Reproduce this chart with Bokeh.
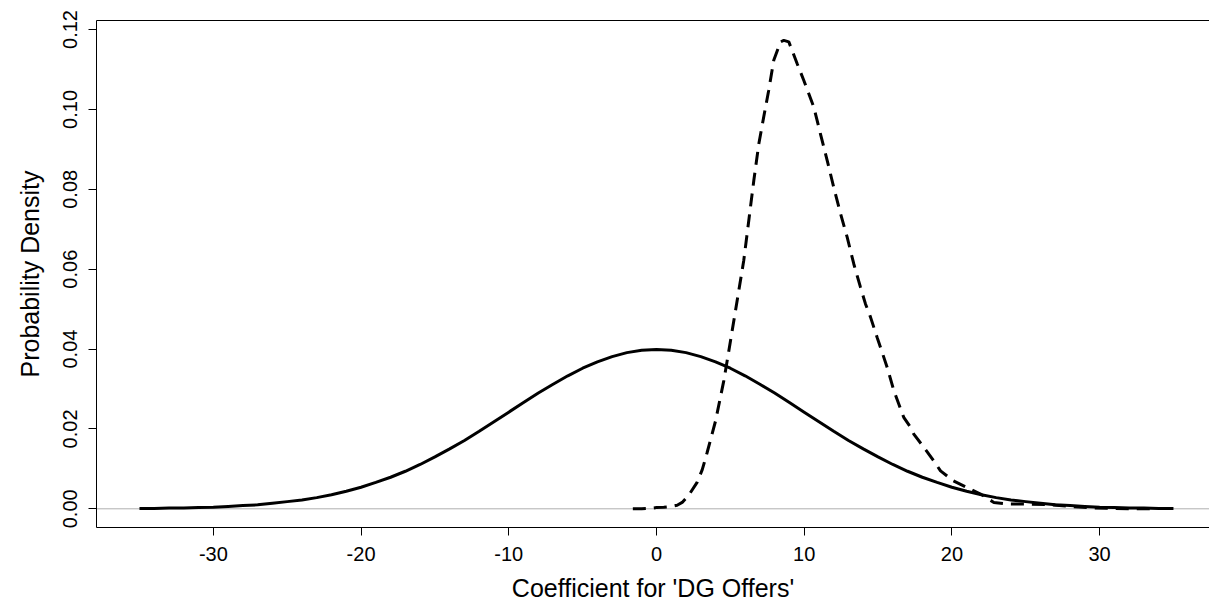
from bokeh.plotting import figure
from bokeh.models import Range1d, FixedTicker, LinearAxis, Span
from bokeh.embed import file_html
from bokeh.resources import INLINE

# Prior density (solid)
prior_x = list(range(-35, 36))
prior_half = [0.0399, 0.0397, 0.0391, 0.0381, 0.0368, 0.0352, 0.0333, 0.0312, 0.0290, 0.0266,
              0.0242, 0.0218, 0.0194, 0.0171, 0.0150, 0.0130, 0.0111, 0.0094, 0.0079, 0.0066,
              0.0054, 0.0044, 0.0035, 0.0028, 0.0022, 0.0018, 0.0014, 0.0010, 0.0008, 0.0006,
              0.0004, 0.0003, 0.0002, 0.0002, 0.0001, 0.0001]
prior_y = prior_half[:0:-1] + prior_half  # curve read as symmetric about 0

# Posterior density (dashed)
post_x = [-1.6, -1.0, -0.5, 0.0, 0.5, 1.0, 1.4, 1.74, 2.2, 2.75, 3.1, 3.43, 4.0, 4.56, 4.9,
          5.35, 5.91, 6.25, 6.59, 6.93, 7.26, 7.6, 7.94, 8.4, 8.62, 8.96, 9.52, 9.97, 10.65,
          11.1, 11.56, 12.0, 12.46, 12.91, 13.36, 13.81, 14.15, 14.49, 14.94, 15.62, 16.07,
          16.74, 17.2, 17.42, 18.1, 18.77, 19.23, 20.1, 21.26, 21.94, 22.84, 23.74, 25.1,
          26.7, 28.0, 29.5, 31.0, 32.5, 33.4]
post_y = [0.0000, 0.0000, 0.0001, 0.0003, 0.0004, 0.0006, 0.0009, 0.0016, 0.0035, 0.0066,
          0.0098, 0.0141, 0.0220, 0.0321, 0.0396, 0.0496, 0.0622, 0.0722, 0.0822, 0.0914,
          0.0981, 0.1048, 0.1123, 0.1169, 0.1173, 0.1169, 0.1115, 0.1073, 0.1006, 0.0939,
          0.0872, 0.0805, 0.0739, 0.0680, 0.0613, 0.0555, 0.0513, 0.0480, 0.0429, 0.0354,
          0.0296, 0.0229, 0.0204, 0.0187, 0.0154, 0.0120, 0.0095, 0.0070, 0.0049, 0.0037,
          0.0016, 0.0012, 0.0012, 0.0010, 0.0006, 0.0002, 0.0001, 0.0000, 0.0000]

x_ticks = [-30, -20, -10, 0, 10, 20, 30]
x_tick_labels = ["-30", "-20", "-10", "0", "10", "20", "30"]
y_ticks = [0.00, 0.02, 0.04, 0.06, 0.08, 0.10, 0.12]
y_tick_labels = ["0.00", "0.02", "0.04", "0.06", "0.08", "0.10", "0.12"]
x_title = "Coefficient for 'DG Offers'"
y_title = "Probability Density"

FONT = "Liberation Sans"

p = figure(width=1209, height=609, output_backend="svg", toolbar_location=None,
           x_range=Range1d(-37.91, 37.44), y_range=Range1d(-0.00468, 0.12226),
           min_border_left=96, min_border_top=20, min_border_right=0, min_border_bottom=82)
p.outline_line_color = None
p.outline_line_alpha = 0
p.grid.visible = False
p.background_fill_color = "white"
p.border_fill_color = "white"

zero = Span(location=0, dimension="width", line_color="#b0b0b0", line_width=1, level="underlay")
p.add_layout(zero)

p.line(prior_x, prior_y, line_color="black", line_width=3)
p.line(post_x, post_y, line_color="black", line_width=3, line_dash="13 8")

# bottom axis
xa = p.xaxis[0]
xa.ticker = FixedTicker(ticks=x_ticks)
xa.major_label_overrides = {float(t): s for t, s in zip(x_ticks, x_tick_labels)}
xa.minor_tick_line_color = None
xa.major_tick_out = 8
xa.major_tick_in = 0
xa.major_label_standoff = 11
xa.major_label_text_font = FONT
xa.major_label_text_font_size = "20px"
xa.major_label_text_color = "black"
xa.axis_label = x_title
xa.axis_label_text_font = FONT
xa.axis_label_text_font_size = "25px"
xa.axis_label_text_font_style = "normal"
xa.axis_label_text_color = "black"
xa.axis_label_standoff = 10
xa.axis_line_color = "black"
xa.major_tick_line_color = "black"

# left axis
ya = p.yaxis[0]
ya.ticker = FixedTicker(ticks=y_ticks)
ya.major_label_overrides = {float(t): s for t, s in zip(y_ticks, y_tick_labels)}
ya.minor_tick_line_color = None
ya.major_tick_out = 8
ya.major_tick_in = 0
ya.major_label_standoff = 11
ya.major_label_orientation = "vertical"
ya.major_label_text_font = FONT
ya.major_label_text_font_size = "20px"
ya.major_label_text_color = "black"
ya.axis_label = y_title
ya.axis_label_text_font = FONT
ya.axis_label_text_font_size = "25px"
ya.axis_label_text_font_style = "normal"
ya.axis_label_text_color = "black"
ya.axis_label_standoff = 17
ya.axis_line_color = "black"
ya.major_tick_line_color = "black"

# top border of the box
top = LinearAxis(ticker=FixedTicker(ticks=[]), major_tick_line_color=None,
                 minor_tick_line_color=None, major_label_text_font_size="0px",
                 major_label_standoff=0, axis_label_standoff=0, axis_line_color="black")
p.add_layout(top, "above")

open("out.html", "w").write(file_html(p, INLINE))
